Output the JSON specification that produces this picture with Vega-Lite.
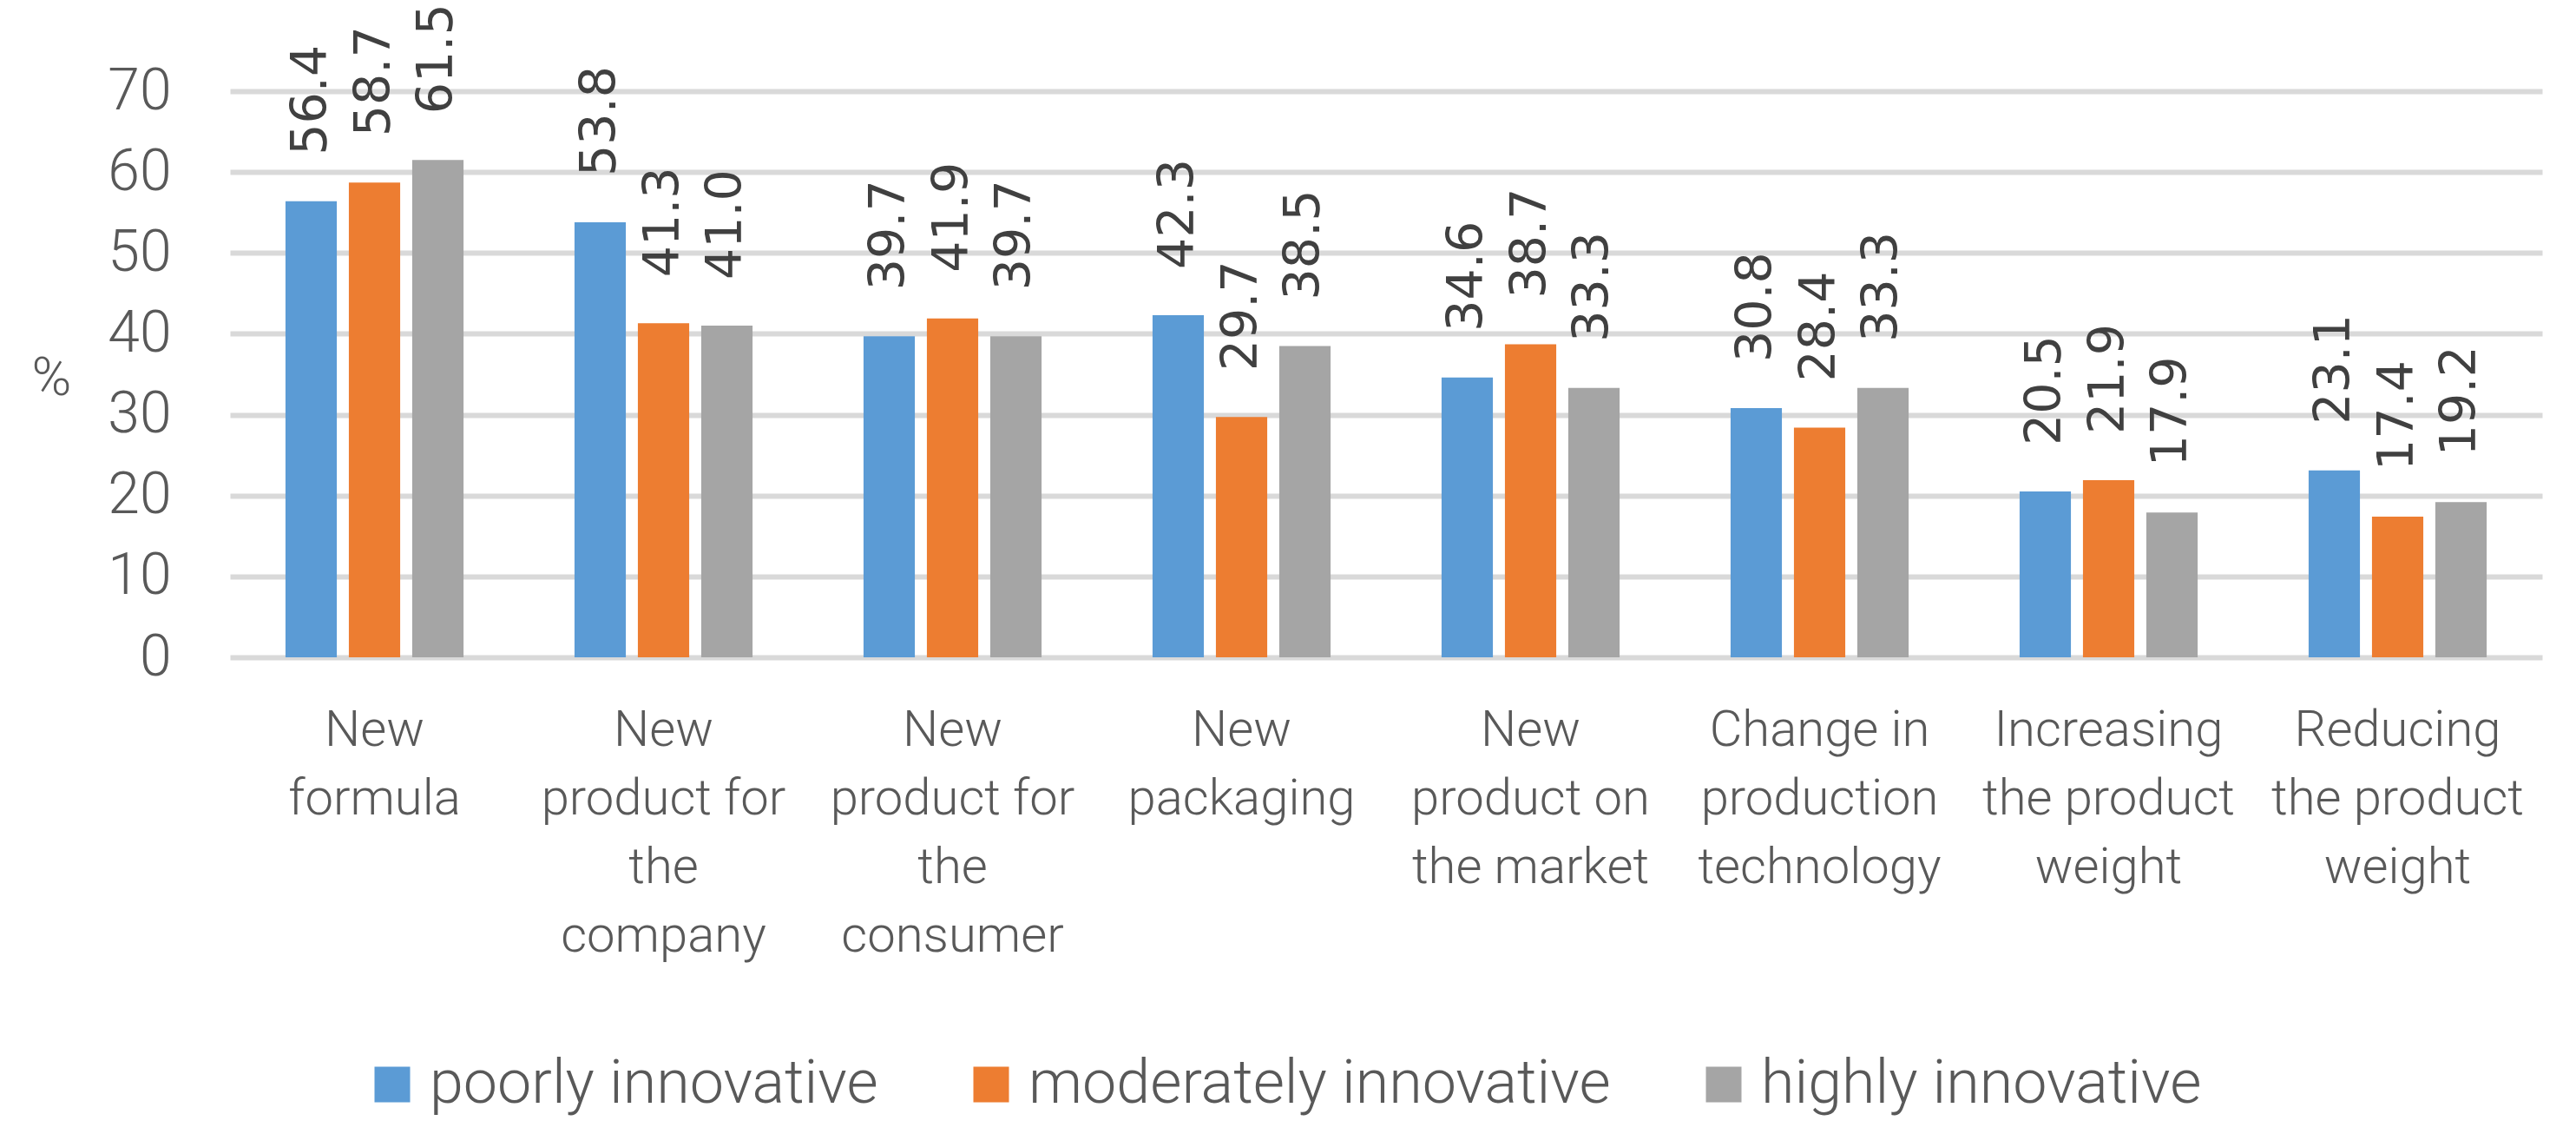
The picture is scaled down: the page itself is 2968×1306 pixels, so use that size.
{
  "$schema": "https://vega.github.io/schema/vega-lite/v6.json",
  "autosize": {"type": "none"},
  "width": 2664,
  "height": 652,
  "padding": {"left": 265, "top": 105, "right": 39, "bottom": 549},
  "background": "white",
  "config": {
    "view": {"stroke": null},
    "font": "Roboto"
  },
  "data": {
    "values": [
      {"category": "New formula", "series": "poorly innovative", "value": 56.4},
      {"category": "New formula", "series": "moderately innovative", "value": 58.7},
      {"category": "New formula", "series": "highly innovative", "value": 61.5},
      {"category": "New product for the company", "series": "poorly innovative", "value": 53.8},
      {"category": "New product for the company", "series": "moderately innovative", "value": 41.3},
      {"category": "New product for the company", "series": "highly innovative", "value": 41.0},
      {"category": "New product for the consumer", "series": "poorly innovative", "value": 39.7},
      {"category": "New product for the consumer", "series": "moderately innovative", "value": 41.9},
      {"category": "New product for the consumer", "series": "highly innovative", "value": 39.7},
      {"category": "New packaging", "series": "poorly innovative", "value": 42.3},
      {"category": "New packaging", "series": "moderately innovative", "value": 29.7},
      {"category": "New packaging", "series": "highly innovative", "value": 38.5},
      {"category": "New product on the market", "series": "poorly innovative", "value": 34.6},
      {"category": "New product on the market", "series": "moderately innovative", "value": 38.7},
      {"category": "New product on the market", "series": "highly innovative", "value": 33.3},
      {"category": "Change in production technology", "series": "poorly innovative", "value": 30.8},
      {"category": "Change in production technology", "series": "moderately innovative", "value": 28.4},
      {"category": "Change in production technology", "series": "highly innovative", "value": 33.3},
      {"category": "Increasing the product weight", "series": "poorly innovative", "value": 20.5},
      {"category": "Increasing the product weight", "series": "moderately innovative", "value": 21.9},
      {"category": "Increasing the product weight", "series": "highly innovative", "value": 17.9},
      {"category": "Reducing the product weight", "series": "poorly innovative", "value": 23.1},
      {"category": "Reducing the product weight", "series": "moderately innovative", "value": 17.4},
      {"category": "Reducing the product weight", "series": "highly innovative", "value": 19.2}
    ]
  },
  "encoding": {
    "x": {
      "field": "category",
      "type": "nominal",
      "sort": null,
      "scale": {"paddingInner": 0.384, "paddingOuter": 0.192},
      "axis": {
        "title": null,
        "domain": false,
        "ticks": false,
        "labelAngle": 0,
        "labelFont": "Roboto",
        "labelFontWeight": 300,
        "labelFontSize": 58,
        "labelLineHeight": 79,
        "labelColor": "#595959",
        "labelPadding": 55,
        "labelOverlap": false,
        "labelBound": false,
        "labelFlush": false,
        "labelLimit": 0,
        "labelBaseline": "top",
        "labelExpr": "datum.value == 'New formula' ? ['New','formula'] : datum.value == 'New product for the company' ? ['New','product for','the','company'] : datum.value == 'New product for the consumer' ? ['New','product for','the','consumer'] : datum.value == 'New packaging' ? ['New','packaging'] : datum.value == 'New product on the market' ? ['New','product on','the market'] : datum.value == 'Change in production technology' ? ['Change in','production','technology'] : datum.value == 'Increasing the product weight' ? ['Increasing','the product','weight'] : datum.value == 'Reducing the product weight' ? ['Reducing','the product','weight'] : datum.value"
      }
    },
    "xOffset": {
      "field": "series",
      "type": "nominal",
      "sort": ["poorly innovative", "moderately innovative", "highly innovative"],
      "scale": {"paddingInner": 0.19, "paddingOuter": 0}
    },
    "y": {
      "field": "value",
      "type": "quantitative",
      "scale": {"domain": [0, 70], "nice": false},
      "axis": {
        "title": "%",
        "titleAngle": 0,
        "titleX": -206,
        "titleY": 330,
        "titleAlign": "center",
        "titleBaseline": "middle",
        "titleFont": "Roboto",
        "titleFontWeight": 300,
        "titleFontSize": 62,
        "titleColor": "#595959",
        "values": [0, 10, 20, 30, 40, 50, 60, 70],
        "domain": false,
        "ticks": false,
        "grid": true,
        "gridColor": "#D9D9D9",
        "gridWidth": 6,
        "labelFont": "Roboto",
        "labelFontWeight": 300,
        "labelFontSize": 66,
        "labelColor": "#595959",
        "labelPadding": 68
      }
    }
  },
  "layer": [
    {
      "mark": {"type": "bar"},
      "encoding": {
        "color": {
          "field": "series",
          "type": "nominal",
          "scale": {
            "domain": ["poorly innovative", "moderately innovative", "highly innovative"],
            "range": ["#5B9BD5", "#ED7D31", "#A5A5A5"]
          },
          "legend": {
            "title": null,
            "orient": "none",
            "direction": "horizontal",
            "legendX": 152,
            "legendY": 1109,
            "padding": 0,
            "symbolType": "square",
            "symbolSize": 1681,
            "symbolStrokeWidth": 0,
            "labelFont": "Roboto",
            "labelFontWeight": 300,
            "labelFontSize": 70,
            "labelColor": "#595959",
            "labelOffset": 8,
            "labelLimit": 0,
            "columnPadding": 95
          }
        }
      }
    },
    {
      "mark": {
        "type": "text",
        "angle": 270,
        "align": "left",
        "baseline": "middle",
        "dx": 53,
        "font": "DejaVu Sans",
        "fontSize": 57,
        "color": "#404040"
      },
      "encoding": {
        "text": {"field": "value", "type": "quantitative", "format": ".1f"}
      }
    }
  ]
}
